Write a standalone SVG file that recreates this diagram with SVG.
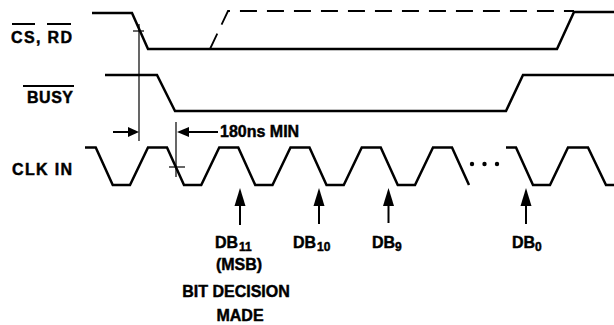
<svg xmlns="http://www.w3.org/2000/svg" width="614" height="325" viewBox="0 0 614 325">
<style>
.sig{fill:none;stroke:#000;stroke-width:2.5;stroke-linejoin:miter}
.thin{fill:none;stroke:#000;stroke-width:1.2}
.dash{fill:none;stroke:#000;stroke-width:1.8;stroke-dasharray:17 10}
.ovl{stroke:#000;stroke-width:2}
.lbl{font-family:"Liberation Sans",Arial,sans-serif;font-weight:bold;font-size:16px;fill:#000;stroke:#000;stroke-width:0.45}
.sub{font-size:12px}
.ah{fill:#000;stroke:none}
.shaft{stroke:#000;stroke-width:2}
</style>
<rect width="614" height="325" fill="#fff"/>
<g id="cs-rd">
<path class="sig" d="M92,13 H132 L148,49 H557 L574,12 H614"/>
<path class="dash" d="M210,49 L228,11 H574"/>
<text class="lbl" x="11" y="43" textLength="61" lengthAdjust="spacing">CS, RD</text>
<line class="ovl" x1="12" y1="24" x2="35" y2="24"/>
<line class="ovl" x1="47" y1="24" x2="71" y2="24"/>
</g>
<g id="busy">
<path class="sig" d="M105,75 H157 L175,111 H506 L523,75 H614"/>
<text class="lbl" x="27" y="103" textLength="46" lengthAdjust="spacing">BUSY</text>
<line class="ovl" x1="23" y1="86" x2="74" y2="86"/>
</g>
<g id="clk-in">
<path class="sig" d="M85,147.5 H95.75 L112.75,185 H130 L148,147.5 H167 L184,185 H201.25 L219.25,147.5 H238.25 L255.25,185 H272.5 L290.5,147.5 H309.5 L326.5,185 H343.75 L361.75,147.5 H380.75 L397.75,185 H415 L433,147.5 H452 L469,185"/>
<path class="sig" d="M506,147.5 H516 L533,185 H550 L568,147.5 H588 L606,185 H614"/>
<circle cx="472" cy="164" r="2.2"/>
<circle cx="484.5" cy="164" r="2.2"/>
<circle cx="497" cy="164" r="2.2"/>
<text class="lbl" x="12" y="175" textLength="60" lengthAdjust="spacing">CLK IN</text>
</g>
<g id="connectors">
<line class="thin" x1="139" y1="24" x2="139" y2="141"/>
<line class="thin" x1="133" y1="31" x2="144" y2="31"/>
<line class="thin" x1="176" y1="122" x2="176" y2="177"/>
<line class="thin" x1="169" y1="167" x2="185" y2="167"/>
<line class="shaft" x1="113" y1="132" x2="129" y2="132"/>
<polygon class="ah" points="128,127 139,132 128,137"/>
<line class="shaft" x1="188" y1="132" x2="218" y2="132"/>
<polygon class="ah" points="177,132 189,127 189,137"/>
<text class="lbl" x="220" y="137">180ns MIN</text>
<line class="shaft" x1="240" y1="204" x2="240" y2="225"/>
<polygon class="ah" points="240,188 234.5,206 245.5,206"/>
<line class="shaft" x1="319" y1="204" x2="319" y2="224"/>
<polygon class="ah" points="319,188 313.5,206 324.5,206"/>
<line class="shaft" x1="388.5" y1="204" x2="388.5" y2="223"/>
<polygon class="ah" points="388.5,188 383,206 394,206"/>
<line class="shaft" x1="526" y1="204" x2="526" y2="224"/>
<polygon class="ah" points="526,188 520.5,206 531.5,206"/>
</g>
<g id="labels">
<text class="lbl" x="215" y="248">DB<tspan class="sub" dx="1" dy="3">11</tspan></text>
<text class="lbl" x="293" y="248">DB<tspan class="sub" dx="1" dy="3">10</tspan></text>
<text class="lbl" x="372" y="248">DB<tspan class="sub" dx="0" dy="3">9</tspan></text>
<text class="lbl" x="512" y="248">DB<tspan class="sub" dx="0" dy="3">0</tspan></text>
<text class="lbl" x="239" y="270" text-anchor="middle">(MSB)</text>
<text class="lbl" x="236" y="297" text-anchor="middle">BIT DECISION</text>
<text class="lbl" x="240" y="321" text-anchor="middle">MADE</text>
</g>
</svg>
